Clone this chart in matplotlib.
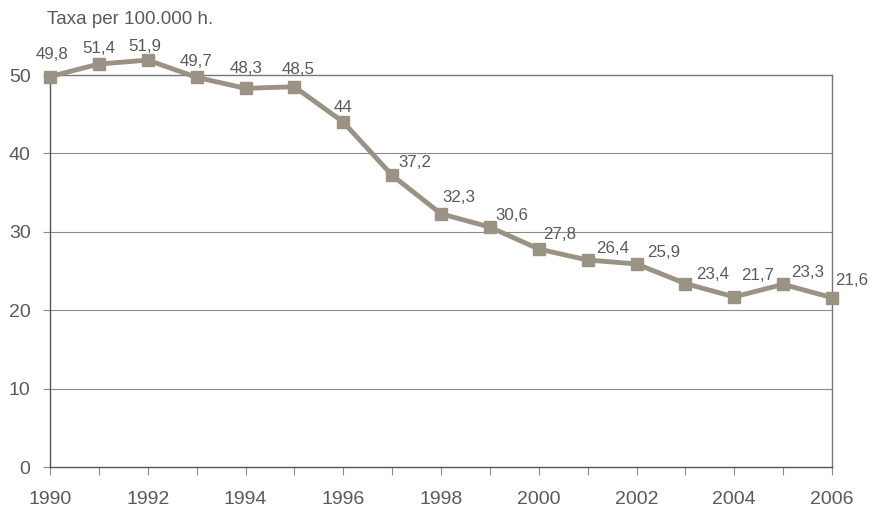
import matplotlib
matplotlib.use("Agg")
import matplotlib.pyplot as plt

years = [1990, 1991, 1992, 1993, 1994, 1995, 1996, 1997, 1998, 1999,
         2000, 2001, 2002, 2003, 2004, 2005, 2006]
values = [49.8, 51.4, 51.9, 49.7, 48.3, 48.5, 44.0, 37.2, 32.3, 30.6,
          27.8, 26.4, 25.9, 23.4, 21.7, 23.3, 21.6]
labels = ["49,8", "51,4", "51,9", "49,7", "48,3", "48,5", "44", "37,2", "32,3",
          "30,6", "27,8", "26,4", "25,9", "23,4", "21,7", "23,3", "21,6"]
xtick_years = [1990, 1992, 1994, 1996, 1998, 2000, 2002, 2004, 2006]
yticks = [0, 10, 20, 30, 40, 50]

# label offsets in pixels (dx, dy)
offsets = [(2, 22), (0, 16), (-3, 14), (-1, 16), (1, 20), (4, 17), (0, 15),
           (23, 13), (18, 16), (22, 12), (21, 15), (25, 12), (27, 11),
           (27, 9), (23, 21), (25, 12), (20, 17)]

plt.rcParams['font.family'] = ['Liberation Sans', 'DejaVu Sans']

fig = plt.figure(figsize=(8.69, 5.07), dpi=100)
fig.patch.set_facecolor('white')
ax = fig.add_axes([50/869, 1-467/507, (832-50)/869, (467-75)/507])

line_col = '#9a9383'
text_col = '#5a5a5a'
grid_col = '#8a8a8a'

ax.set_xlim(1990, 2006)
ax.set_ylim(0, 50)
for y in [10, 20, 30, 40]:
    ax.axhline(y, color=grid_col, lw=0.8, zorder=1)

ax.plot(years, values, color=line_col, lw=3.5, marker='s', markersize=8.5,
        markerfacecolor=line_col, markeredgecolor=line_col, clip_on=False, zorder=3)

for x, v, lab, (dx, dy) in zip(years, values, labels, offsets):
    ax.annotate(lab, (x, v), xytext=(dx, dy), textcoords='offset pixels',
                ha='center', va='center', fontsize=12.2, color=text_col,
                annotation_clip=False)

ax.set_xticks(xtick_years)
ax.set_xticks(years, minor=True)
ax.set_xticklabels([str(y) for y in xtick_years])
ax.set_yticks(yticks)
ax.tick_params(axis='x', which='both', direction='out', length=6, width=0.8,
               color=grid_col, labelsize=14, labelcolor=text_col, pad=11)
ax.tick_params(axis='y', direction='out', length=5, width=0.8, color=grid_col,
               labelsize=14, labelcolor=text_col, pad=9)

for side in ['left', 'bottom']:
    ax.spines[side].set_color('#555555')
    ax.spines[side].set_linewidth(1.0)
for side in ['right', 'top']:
    ax.spines[side].set_color('#777777')
    ax.spines[side].set_linewidth(1.0)

fig.text(47/869, 1-20/507, "Taxa per 100.000 h.", fontsize=13.5, color=text_col,
         ha='left', va='center')

fig.savefig('out.png', dpi=100, facecolor='white')
